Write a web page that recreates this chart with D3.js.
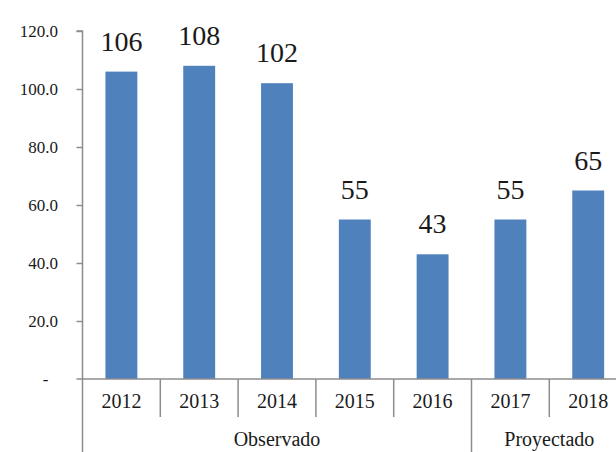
<!DOCTYPE html>
<html><head><meta charset="utf-8">
<script src="https://cdn.jsdelivr.net/npm/d3@7"></script>
<style>body{margin:0;background:#fff}svg{display:block}</style>
</head><body>
<svg id="c" width="616" height="452"></svg>
<script>
const categories = ["2012","2013","2014","2015","2016","2017","2018"];
const values = [106,108,102,55,43,55,65];
const groups = [{name:"Observado", from:"2012", to:"2016"},{name:"Proyectado", from:"2017", to:"2018"}];
const yTicks = [0,20,40,60,80,100,120];

(function(){
const svg = d3.select("#c");
const FONT = '"Liberation Serif"';
const axisColor = "#8c8c8c";
const textColor = "#1a1a1a";
const plotLeft = 82.5, band = 77.8, plotBottom = 379, plotTop = 31;

const x = d3.scaleBand().domain(categories).range([plotLeft, plotLeft + band*categories.length]).padding(0);
const y = d3.scaleLinear().domain([0,120]).range([plotBottom, plotTop]);

// bars
const bw = x.bandwidth()*0.41;
svg.selectAll("rect.bar").data(categories).join("rect")
  .attr("x", d => x(d) + (x.bandwidth()-bw)/2)
  .attr("y", (d,i) => y(values[i]))
  .attr("width", bw)
  .attr("height", (d,i) => y(0) - y(values[i]))
  .attr("fill", "#4F81BD");

// value labels
svg.selectAll("text.val").data(categories).join("text")
  .attr("x", d => x(d) + x.bandwidth()/2)
  .attr("y", (d,i) => y(values[i]) - 21)
  .attr("text-anchor","middle")
  .style("font-family", FONT).style("font-size", "28px").attr("fill", textColor)
  .text((d,i) => values[i]);

// y axis
const yAxis = d3.axisLeft(y).tickValues(yTicks).tickSize(6).tickPadding(18.5)
  .tickFormat(d => d === 0 ? "-" : d.toFixed(1));
const ya = svg.append("g").attr("transform", `translate(${plotLeft},0)`).call(yAxis);
ya.select(".domain").attr("stroke", axisColor).attr("stroke-width",1.5).attr("d", `M-6,${plotTop}H0V${plotBottom}`);
ya.selectAll(".tick line").attr("stroke", axisColor).attr("stroke-width",1.5);
ya.selectAll(".tick text").style("font-family", FONT).style("font-size", "17px").attr("fill", textColor);
ya.selectAll(".tick").filter(d => d===0).select("line").remove();
ya.selectAll(".tick").filter(d => d===0).select("text").attr("x", -34);

// x axis baseline
svg.append("line").attr("x1", plotLeft-6).attr("x2", 640).attr("y1", plotBottom).attr("y2", plotBottom)
  .attr("stroke", axisColor).attr("stroke-width",1.5);

// year dividers
const groupStarts = groups.map(g => g.from);
categories.forEach(c => {
  const long = groupStarts.includes(c);
  svg.append("line").attr("x1", x(c)).attr("x2", x(c)).attr("y1", plotBottom).attr("y2", long ? 452 : 417)
    .attr("stroke", axisColor).attr("stroke-width",1.5);
});
svg.append("line").attr("x1", x.range()[1]).attr("x2", x.range()[1]).attr("y1", plotBottom).attr("y2", 452)
  .attr("stroke", axisColor).attr("stroke-width",1.5);

// year labels
svg.selectAll("text.yr").data(categories).join("text")
  .attr("x", d => x(d) + x.bandwidth()/2).attr("y", 408)
  .attr("text-anchor","middle").style("font-family", FONT).style("font-size", "20px").attr("fill", textColor)
  .text(d => d);

// group labels
groups.forEach(g => {
  const cx = (x(g.from) + x(g.to) + x.bandwidth())/2;
  svg.append("text").attr("x", cx).attr("y", 446).attr("text-anchor","middle")
    .style("font-family", FONT).style("font-size", "20px").attr("fill", textColor).text(g.name);
});
})();
</script>
</body></html>
